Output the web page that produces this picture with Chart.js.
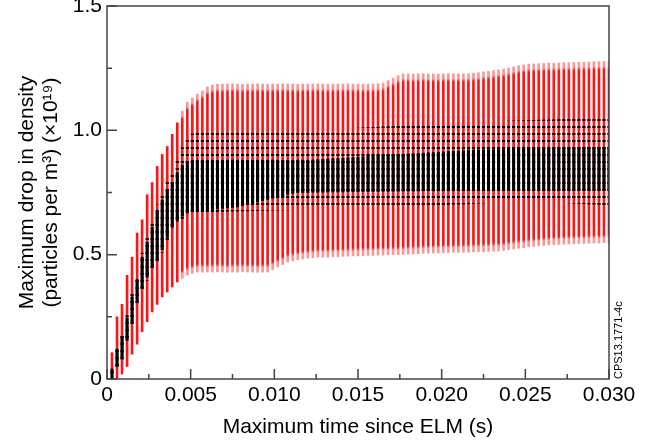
<!DOCTYPE html>
<html lang="en">
<head>
<meta charset="UTF-8">
<title>Maximum drop in density vs time since ELM</title>
<script src="https://cdn.jsdelivr.net/npm/chart.js"></script>
<style>
  html, body { margin: 0; padding: 0; background: #fff; }
</style>
</head>
<body>
<canvas id="chart" width="659" height="441"></canvas>
<script>
// time since ELM (s), one entry per bar
const times = [
  0.0003,0.0006,0.0009,0.0012,0.0015,0.0018,0.0021,0.0024,0.0027,0.0030,
  0.0033,0.0036,0.0039,0.0042,0.0045,0.0048,0.0051,0.0054,0.0057,0.0060,
  0.0063,0.0066,0.0069,0.0072,0.0075,0.0078,0.0081,0.0084,0.0087,0.0090,
  0.0093,0.0096,0.0099,0.0102,0.0105,0.0108,0.0111,0.0114,0.0117,0.0120,
  0.0123,0.0126,0.0129,0.0132,0.0135,0.0138,0.0141,0.0144,0.0147,0.0150,
  0.0153,0.0156,0.0159,0.0162,0.0165,0.0168,0.0171,0.0174,0.0177,0.0180,
  0.0183,0.0186,0.0189,0.0192,0.0195,0.0198,0.0201,0.0204,0.0207,0.0210,
  0.0213,0.0216,0.0219,0.0222,0.0225,0.0228,0.0231,0.0234,0.0237,0.0240,
  0.0243,0.0246,0.0249,0.0252,0.0255,0.0258,0.0261,0.0264,0.0267,0.0270,
  0.0273,0.0276,0.0279,0.0282,0.0285,0.0288,0.0291,0.0294,0.0297,0.0300
];

// red range (x1e19 m^-3)
const redHigh = [
  0.106,0.25,0.30,0.417,0.49,0.587,0.64,0.741,0.79,0.855,
  0.903,0.935,0.984,1.03,1.077,1.113,1.13,1.146,1.158,1.174,
  1.182,1.186,1.185,1.186,1.187,1.186,1.185,1.186,1.186,1.187,
  1.186,1.185,1.186,1.186,1.187,1.186,1.186,1.185,1.186,1.186,
  1.186,1.187,1.186,1.185,1.186,1.186,1.186,1.187,1.186,1.186,
  1.185,1.186,1.186,1.187,1.19,1.20,1.21,1.22,1.227,1.227,
  1.226,1.227,1.228,1.227,1.227,1.226,1.227,1.228,1.227,1.227,
  1.227,1.228,1.23,1.232,1.235,1.237,1.24,1.243,1.246,1.25,
  1.255,1.26,1.263,1.266,1.267,1.268,1.269,1.27,1.27,1.271,
  1.272,1.272,1.273,1.274,1.274,1.275,1.276,1.276,1.277,1.277
];
const redLow = [
  0,0,0.02,0.05,0.10,0.14,0.19,0.23,0.27,0.30,
  0.33,0.35,0.37,0.39,0.405,0.418,0.425,0.43,0.43,0.43,
  0.43,0.431,0.43,0.429,0.43,0.43,0.431,0.43,0.43,0.429,
  0.43,0.43,0.44,0.45,0.46,0.47,0.475,0.48,0.483,0.486,
  0.488,0.49,0.49,0.49,0.492,0.492,0.493,0.494,0.495,0.495,
  0.496,0.497,0.497,0.498,0.498,0.499,0.50,0.50,0.501,0.502,
  0.503,0.504,0.506,0.506,0.507,0.507,0.508,0.508,0.509,0.509,
  0.51,0.51,0.511,0.512,0.512,0.513,0.514,0.515,0.517,0.52,
  0.523,0.526,0.528,0.531,0.533,0.535,0.537,0.539,0.54,0.541,
  0.542,0.543,0.544,0.545,0.545,0.546,0.547,0.547,0.548,0.548
];

// black points: full spread of the dots
const blackHigh = [
  0.045,0.127,0.182,0.255,0.344,0.41,0.506,0.572,0.64,0.70,
  0.755,0.79,0.82,0.88,0.93,0.97,0.985,1.0,1.004,1.004,
  1.004,1.003,1.004,1.004,1.005,1.004,1.004,1.003,1.004,1.004,
  1.004,1.004,1.005,1.004,1.004,1.003,1.004,1.004,1.004,1.005,
  1.004,1.004,1.004,1.004,1.004,1.005,1.006,1.007,1.008,1.009,
  1.01,1.011,1.012,1.013,1.014,1.015,1.016,1.017,1.018,1.019,
  1.02,1.021,1.022,1.023,1.024,1.025,1.026,1.027,1.027,1.028,
  1.029,1.03,1.031,1.032,1.033,1.034,1.034,1.035,1.036,1.037,
  1.038,1.038,1.039,1.04,1.04,1.041,1.042,1.042,1.043,1.044,
  1.044,1.045,1.046,1.046,1.047,1.048,1.048,1.049,1.05,1.05
];
const blackLow = [
  0,0.045,0.073,0.147,0.215,0.30,0.356,0.397,0.44,0.47,
  0.51,0.56,0.60,0.625,0.645,0.66,0.668,0.672,0.672,0.672,
  0.673,0.673,0.674,0.674,0.675,0.675,0.676,0.676,0.677,0.677,
  0.678,0.678,0.679,0.679,0.68,0.68,0.681,0.681,0.682,0.682,
  0.683,0.683,0.684,0.685,0.685,0.686,0.686,0.687,0.687,0.688,
  0.689,0.69,0.69,0.691,0.692,0.693,0.693,0.694,0.695,0.696,
  0.697,0.697,0.698,0.699,0.70,0.70,0.701,0.702,0.703,0.703,
  0.704,0.705,0.706,0.707,0.708,0.709,0.71,0.711,0.712,0.713,
  0.714,0.714,0.714,0.713,0.713,0.712,0.712,0.711,0.71,0.71,
  0.709,0.708,0.707,0.706,0.705,0.704,0.703,0.702,0.701,0.70
];

// black points: dense core
const coreHigh = [
  0.04,0.12,0.17,0.245,0.33,0.40,0.49,0.55,0.61,0.67,
  0.72,0.76,0.79,0.83,0.86,0.875,0.88,0.88,0.88,0.88,
  0.88,0.879,0.88,0.88,0.881,0.88,0.88,0.879,0.88,0.88,
  0.88,0.88,0.881,0.88,0.88,0.879,0.88,0.88,0.88,0.88,
  0.881,0.882,0.883,0.885,0.886,0.887,0.888,0.89,0.891,0.892,
  0.893,0.895,0.896,0.897,0.898,0.90,0.901,0.902,0.903,0.905,
  0.906,0.907,0.908,0.91,0.911,0.912,0.913,0.915,0.916,0.917,
  0.918,0.92,0.92,0.921,0.921,0.922,0.922,0.923,0.923,0.924,
  0.924,0.925,0.925,0.925,0.926,0.926,0.926,0.927,0.927,0.927,
  0.928,0.928,0.928,0.929,0.929,0.929,0.93,0.93,0.93,0.93
];
const coreLow = [
  0.005,0.05,0.08,0.155,0.225,0.31,0.365,0.41,0.45,0.48,
  0.52,0.57,0.61,0.635,0.655,0.668,0.675,0.68,0.68,0.68,
  0.682,0.684,0.686,0.688,0.69,0.692,0.697,0.702,0.707,0.712,
  0.717,0.722,0.727,0.732,0.737,0.742,0.746,0.75,0.75,0.75,
  0.751,0.751,0.751,0.752,0.752,0.752,0.752,0.753,0.753,0.753,
  0.754,0.754,0.754,0.754,0.755,0.755,0.755,0.755,0.756,0.756,
  0.756,0.756,0.757,0.757,0.757,0.757,0.757,0.758,0.758,0.758,
  0.758,0.758,0.759,0.759,0.759,0.759,0.759,0.76,0.76,0.76,
  0.76,0.76,0.76,0.76,0.76,0.76,0.76,0.76,0.76,0.76,
  0.76,0.76,0.76,0.76,0.76,0.76,0.76,0.76,0.76,0.76
];

// tick marks (every other one is a major, labelled tick)
const xTickValues = [0,0.0025,0.005,0.0075,0.010,0.0125,0.015,0.0175,0.020,0.0225,0.025,0.0275,0.030];
const yTickValues = [0,0.25,0.5,0.75,1.0,1.25,1.5];

const FONT = "'Liberation Sans', Arial, Helvetica, sans-serif";
const RED = 'rgb(250,22,22)';
const PINK = 'rgb(250,150,150)';

// horizontal dash pattern for the scattered black points
function dotPattern() {
  const c = document.createElement('canvas');
  c.width = 4; c.height = 7;
  const g = c.getContext('2d');
  g.fillStyle = '#000';
  g.fillRect(0, 0, 4, 2);
  return g.createPattern(c, 'repeat');
}

// red bars fade to pink at the ends once they are long
function redFill(ctx) {
  const chart = ctx.chart;
  const y = chart.scales.y;
  if (!y || ctx.type !== 'data') return RED;
  const i = ctx.dataIndex;
  const top = y.getPixelForValue(redHigh[i]);
  const bot = y.getPixelForValue(redLow[i]);
  const len = bot - top;
  if (!isFinite(len) || len < 165) return RED;
  const f = 8 / len;
  const g = chart.ctx.createLinearGradient(0, top, 0, bot);
  g.addColorStop(0, PINK);
  g.addColorStop(f * 0.6, PINK);
  g.addColorStop(f, RED);
  g.addColorStop(1 - f, RED);
  g.addColorStop(1 - f * 0.6, PINK);
  g.addColorStop(1, PINK);
  return g;
}

const axisDecor = {
  id: 'axisDecor',
  afterDatasetsDraw(chart) {
    const { ctx, chartArea: a, scales: { x, y } } = chart;
    ctx.save();
    ctx.strokeStyle = '#444';
    ctx.lineWidth = 1.5;
    ctx.strokeRect(a.left, a.top, a.right - a.left, a.bottom - a.top);
    ctx.beginPath();
    yTickValues.forEach((v, i) => {
      const py = y.getPixelForValue(v);
      ctx.moveTo(a.left, py);
      ctx.lineTo(a.left + (i % 2 === 0 ? 10 : 5), py);
    });
    xTickValues.forEach((v, i) => {
      const px = x.getPixelForValue(v);
      ctx.moveTo(px, a.bottom);
      ctx.lineTo(px, a.bottom - (i % 2 === 0 ? 10 : 5));
    });
    ctx.stroke();
    // figure id along the right edge
    ctx.translate(a.right + 10, a.bottom);
    ctx.rotate(-Math.PI / 2);
    ctx.fillStyle = '#000';
    ctx.font = '11px ' + FONT;
    ctx.textBaseline = 'middle';
    ctx.textAlign = 'left';
    ctx.fillText('CPS13.1771-4c', 0, 0);
    ctx.restore();
  }
};

const barOpts = { grouped: false, borderWidth: 0, borderSkipped: false };

new Chart(document.getElementById('chart'), {
  type: 'bar',
  data: {
    datasets: [
      Object.assign({
        label: 'core',
        data: times.map((t, i) => ({ x: t, y: [coreLow[i], coreHigh[i]] })),
        backgroundColor: '#000',
        barThickness: 2.4,
        order: 0
      }, barOpts),
      Object.assign({
        label: 'points',
        data: times.map((t, i) => ({ x: t, y: [blackLow[i], blackHigh[i]] })),
        backgroundColor: dotPattern(),
        barThickness: 2.6,
        order: 1
      }, barOpts),
      Object.assign({
        label: 'range',
        data: times.map((t, i) => ({ x: t, y: [redLow[i], redHigh[i]] })),
        backgroundColor: redFill,
        barThickness: 2,
        order: 2
      }, barOpts)
    ]
  },
  options: {
    responsive: false,
    animation: false,
    layout: { padding: { top: 6, right: 50, left: 0, bottom: 0 } },
    plugins: { legend: { display: false }, tooltip: { enabled: false } },
    scales: {
      x: {
        type: 'linear',
        min: 0,
        max: 0.03,
        offset: false,
        grid: { display: false, drawTicks: false, tickLength: 0 },
        border: { display: false },
        ticks: {
          stepSize: 0.005,
          autoSkip: false,
          maxRotation: 0,
          padding: 4,
          color: '#000',
          font: { family: FONT, size: 21 },
          callback: v => (v === 0 ? '0' : v.toFixed(3))
        },
        title: {
          display: true,
          text: 'Maximum time since ELM (s)',
          color: '#000',
          font: { family: FONT, size: 21 },
          padding: { top: 0, bottom: 1 }
        },
        afterFit: s => { s.height = 62; s.paddingLeft = 0; s.paddingRight = 0; }
      },
      y: {
        min: 0,
        max: 1.5,
        grid: { display: false, drawTicks: false, tickLength: 0 },
        border: { display: false },
        ticks: {
          stepSize: 0.5,
          padding: 5,
          color: '#000',
          font: { family: FONT, size: 21 },
          callback: v => (v === 0 ? '0' : v.toFixed(1))
        },
        title: {
          display: true,
          text: ['Maximum drop in density', '(particles per m\u00B3) (\u00D710\u00B9\u2079)'],
          color: '#000',
          font: { family: FONT, size: 21, lineHeight: 1.15 },
          padding: { top: 15, bottom: 0 }
        },
        afterFit: s => { s.width = 107; s.paddingTop = 0; s.paddingBottom = 0; }
      }
    }
  },
  plugins: [axisDecor]
});
</script>
</body>
</html>
